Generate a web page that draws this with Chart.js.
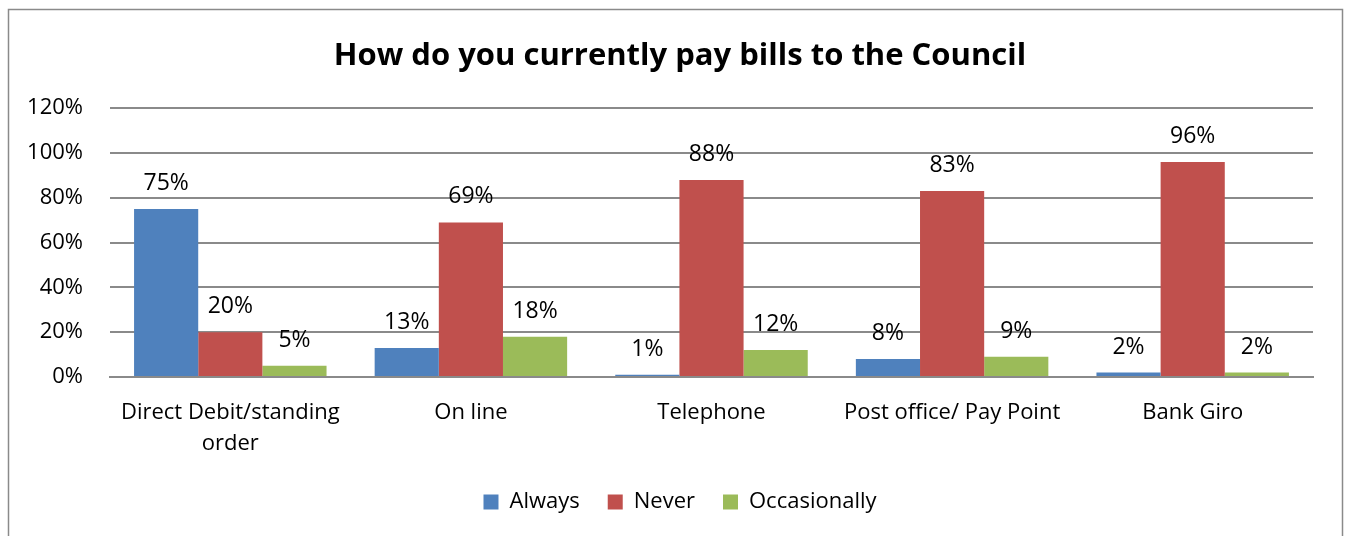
<!DOCTYPE html>
<html><head><meta charset="utf-8">
<script src="https://cdn.jsdelivr.net/npm/chart.js@4"></script>
<style>html,body{margin:0;padding:0;background:#fff}#wrap{width:1350px;height:536px;position:relative}</style>
</head><body><div id="wrap"><canvas id="c" width="1350" height="536"></canvas></div>
<script>
const categories = [['Direct Debit/standing','order'], 'On line', 'Telephone', 'Post office/ Pay Point', 'Bank Giro'];
const seriesNames = ['Always', 'Never', 'Occasionally'];
const always = [75, 13, 1, 8, 2];
const never = [20, 69, 88, 83, 96];
const occasionally = [5, 18, 12, 9, 2];
const yTicks = [0, 20, 40, 60, 80, 100, 120];
const colors = ['#4F81BD', '#C0504D', '#9BBB59'];
const FONT = 'Open Sans';

const borderPlugin = {
  id: 'border',
  beforeDraw(chart) {
    const ctx = chart.ctx;
    ctx.save();
    ctx.fillStyle = '#fff';
    ctx.fillRect(0, 0, chart.width, chart.height);
    ctx.strokeStyle = '#8a8a8a';
    ctx.lineWidth = 1.5;
    ctx.strokeRect(8.5, 9.5, 1334, 600);
    ctx.restore();
  }
};
const labelPlugin = {
  id: 'vlabels',
  afterDatasetsDraw(chart) {
    const ctx = chart.ctx;
    ctx.save();
    ctx.font = '23px "' + FONT + '"';
    ctx.fillStyle = '#000';
    ctx.textAlign = 'center';
    ctx.textBaseline = 'alphabetic';
    chart.data.datasets.forEach((ds, i) => {
      chart.getDatasetMeta(i).data.forEach((bar, j) => {
        ctx.fillText(ds.data[j] + '%', bar.x, bar.y - 19);
      });
    });
    // category labels under the axis
    const xs = chart.scales.x;
    ctx.font = '22px "' + FONT + '"';
    ctx.textBaseline = 'middle';
    chart.data.labels.forEach((lab, i) => {
      const lines = Array.isArray(lab) ? lab : [lab];
      const x = xs.getPixelForTick(i);
      lines.forEach((ln, k) => ctx.fillText(ln, x, xs.top + 36 + k * 31));
    });
    // y tick labels
    const ys = chart.scales.y;
    ctx.textAlign = 'right';
    yTicks.forEach(v => ctx.fillText(v + '%', chart.chartArea.left - 27, ys.getPixelForValue(v)));
    ctx.restore();
  }
};

new Chart(document.getElementById('c'), {
  type: 'bar',
  data: {
    labels: categories,
    datasets: [
      { label: seriesNames[0], data: always, backgroundColor: colors[0] },
      { label: seriesNames[1], data: never, backgroundColor: colors[1] },
      { label: seriesNames[2], data: occasionally, backgroundColor: colors[2] }
    ]
  },
  options: {
    responsive: false,
    animation: false,
    layout: { padding: { left: 47, right: 37, top: 0, bottom: 13 } },
    datasets: { bar: { categoryPercentage: 0.8, barPercentage: 1.0 } },
    plugins: {
      title: {
        display: true,
        text: 'How do you currently pay bills to the Council',
        color: '#000',
        font: { family: FONT, size: 31, weight: 'bold' },
        padding: { top: 38, bottom: 33 }
      },
      legend: {
        position: 'bottom',
        labels: {
          color: '#000',
          font: { family: FONT, size: 22 },
          boxWidth: 15, boxHeight: 15, padding: 28
        }
      },
      tooltip: { enabled: false }
    },
    scales: {
      x: {
        afterFit(scale) { scale.height = 86; },
        grid: { display: false, drawTicks: false },
        border: { display: true, color: '#8a8a8a', width: 2 },
        ticks: { display: false }
      },
      y: {
        min: 0, max: 120,
        afterFit(scale) { scale.width = 63; },
        afterBuildTicks(scale) { scale.ticks = yTicks.map(v => ({ value: v })); },
        grid: { color: '#8a8a8a', lineWidth: 2, drawTicks: false },
        border: { display: false },
        ticks: { display: false }
      }
    }
  },
  plugins: [borderPlugin, labelPlugin]
});
</script></body></html>
